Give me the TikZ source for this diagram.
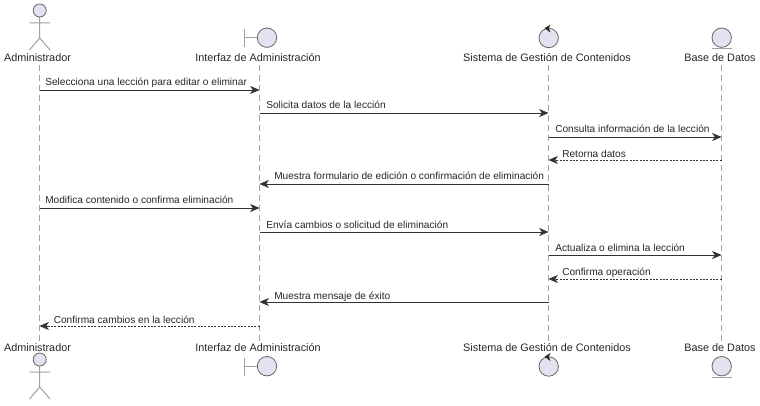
\documentclass[tikz,border=0pt]{standalone}
\usepackage{fontspec}
\setmainfont{Liberation Sans}
\usetikzlibrary{arrows.meta}
\definecolor{partfill}{HTML}{E2E2F0}
\definecolor{partline}{HTML}{A0A0A0}
\definecolor{msgline}{HTML}{333333}
\tikzset{
  partname/.style={font=\fontsize{8.13pt}{10pt}\selectfont,text=black!85,inner sep=0pt,anchor=base},
  msglabel/.style={font=\fontsize{7.6pt}{9pt}\selectfont,text=black!85,inner sep=0pt,anchor=base west},
  lifeline/.style={draw=partline,line width=0.55pt,dash pattern=on 4.5pt off 3pt},
  figline/.style={draw=partline,line width=0.75pt},
  figcircle/.style={draw=black!60,fill=partfill,line width=0.6pt},
  msgsolid/.style={draw=msgline,line width=0.65pt,-{Stealth[length=7pt,width=6pt,inset=2pt]}},
  msgdash/.style={draw=msgline,line width=0.65pt,dash pattern=on 1.5pt off 1pt,-{Stealth[length=7pt,width=6pt,inset=2pt]}},
}
\begin{document}
\begin{tikzpicture}[x=0.75pt,y=-0.75pt]
\useasboundingbox (0,0) rectangle (760,406);
% participant names
\node[partname] (at) at (37.5,61.7) {Administrador};
\node[partname] (it) at (258,61.7) {Interfaz de Administración};
\node[partname] (st) at (547,61.7) {Sistema de Gestión de Contenidos};
\node[partname] (bt) at (720,61.7) {Base de Datos};
\node[partname] (ab) at (37.5,351) {Administrador};
\node[partname] (ib) at (258,351) {Interfaz de Administración};
\node[partname] (sb) at (547,351) {Sistema de Gestión de Contenidos};
\node[partname] (bb) at (720,351) {Base de Datos};
% lifeline ends
\coordinate (a1) at (39.5,65); \coordinate (a2) at (39.5,342);
\coordinate (i1) at (259.5,65); \coordinate (i2) at (259.5,342);
\coordinate (s1) at (548.5,65); \coordinate (s2) at (548.5,342);
\coordinate (b1) at (721.5,65); \coordinate (b2) at (721.5,342);
\draw[lifeline] (a1) -- (a2);
\draw[lifeline] (i1) -- (i2);
\draw[lifeline] (s1) -- (s2);
\draw[lifeline] (b1) -- (b2);
% actors
\foreach \dy in {0,349}{
  \begin{scope}[yshift={-0.75pt*\dy}]
  \draw[figline] (39.7,17) -- (39.7,38) (29.5,23) -- (50,23) (29.5,50) -- (39.7,38) -- (50,50);
  \draw[figcircle] (39.7,10.5) circle (6.5);
  \end{scope}
}
% boundary
\foreach \dy in {0,328.5}{
  \begin{scope}[yshift={-0.75pt*\dy}]
  \draw[figline] (244.5,29) -- (244.5,47) (244.5,38) -- (257,38);
  \draw[figcircle] (267,37.7) circle (9.7);
  \end{scope}
}
% control
\foreach \dy in {0,328.5}{
  \begin{scope}[yshift={-0.75pt*\dy}]
  \draw[figcircle] (548.7,38) circle (9.7);
  \fill[black!85] (544.5,28.3) -- (550.5,24.5) -- (548.8,28.3) -- (550.5,32.5) -- cycle;
  \end{scope}
}
% entity
\foreach \dy in {0,328.5}{
  \begin{scope}[yshift={-0.75pt*\dy}]
  \draw[figcircle] (721.7,37.7) circle (9.7);
  \draw[figline] (712,49) -- (731.5,49);
  \end{scope}
}
% messages
\draw[msgsolid] (a1 |- 0,90) -- (i1 |- 0,90);
\node[msglabel] (m1) at (45,86) {Selecciona una lección para editar o eliminar};
\draw[msgsolid] (i1 |- 0,113) -- (s1 |- 0,113);
\node[msglabel] (m2) at (266,109) {Solicita datos de la lección};
\draw[msgsolid] (s1 |- 0,137) -- (b1 |- 0,137);
\node[msglabel] (m3) at (555,133) {Consulta información de la lección};
\draw[msgdash] (b1 |- 0,160) -- (s1 |- 0,160);
\node[msglabel] (m4) at (562,157) {Retorna datos};
\draw[msgsolid] (s1 |- 0,184) -- (i1 |- 0,184);
\node[msglabel] (m5) at (274,180) {Muestra formulario de edición o confirmación de eliminación};
\draw[msgsolid] (a1 |- 0,208) -- (i1 |- 0,208);
\node[msglabel] (m6) at (45,204) {Modifica contenido o confirma eliminación};
\draw[msgsolid] (i1 |- 0,232) -- (s1 |- 0,232);
\node[msglabel] (m7) at (266,228) {Envía cambios o solicitud de eliminación};
\draw[msgsolid] (s1 |- 0,255) -- (b1 |- 0,255);
\node[msglabel] (m8) at (555,251.5) {Actualiza o elimina la lección};
\draw[msgdash] (b1 |- 0,279) -- (s1 |- 0,279);
\node[msglabel] (m9) at (562,275) {Confirma operación};
\draw[msgsolid] (s1 |- 0,302) -- (i1 |- 0,302);
\node[msglabel] (m10) at (274,299) {Muestra mensaje de éxito};
\draw[msgdash] (i1 |- 0,326) -- (a1 |- 0,326);
\node[msglabel] (m11) at (53.5,323) {Confirma cambios en la lección};
\end{tikzpicture}
\end{document}
